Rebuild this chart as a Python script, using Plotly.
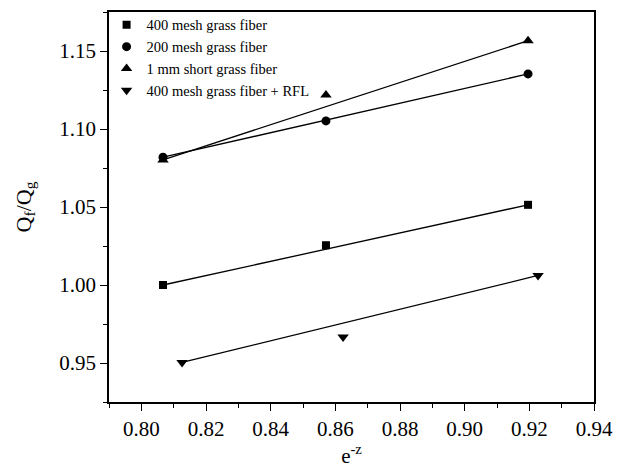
import plotly.graph_objects as go

# Data
names = ["400 mesh grass fiber", "200 mesh grass fiber",
         "1 mm short grass fiber", "400 mesh grass fiber + RFL"]
x_400 = [0.8067, 0.8571, 0.9196]
y_400 = [1.0000, 1.0255, 1.0514]
x_200 = [0.8067, 0.8571, 0.9196]
y_200 = [1.0819, 1.1052, 1.1353]
x_1mm = [0.8067, 0.8571, 0.9196]
y_1mm = [1.0802, 1.1218, 1.1566]
x_rfl = [0.8126, 0.8624, 0.9227]
y_rfl = [0.9504, 0.9666, 1.0061]

x_ticks = [0.80, 0.82, 0.84, 0.86, 0.88, 0.90, 0.92, 0.94]
y_ticks = [0.95, 1.00, 1.05, 1.10, 1.15]

series = [
    (names[0], x_400, y_400, "square", 8),
    (names[1], x_200, y_200, "circle", 9),
    (names[2], x_1mm, y_1mm, "triangle-up", 10),
    (names[3], x_rfl, y_rfl, "triangle-down", 10),
]

FONT = "Liberation Serif"

fig = go.Figure()
# fit lines (drawn first so markers sit on top)
for name, xs, ys, sym, sz in series:
    fig.add_trace(go.Scatter(
        x=[xs[0], xs[-1]], y=[ys[0], ys[-1]], mode="lines",
        line=dict(color="black", width=1.3), showlegend=False, hoverinfo="skip"))
for name, xs, ys, sym, sz in series:
    fig.add_trace(go.Scatter(
        x=xs, y=ys, mode="markers", name=name,
        marker=dict(symbol=sym, size=sz, color="black", line=dict(width=0))))

axis_common = dict(
    showgrid=False, zeroline=False, showline=True, linecolor="black", linewidth=1.5,
    mirror=True, ticks="outside", ticklen=7, tickwidth=1.2, tickcolor="black",
    tickfont=dict(family=FONT, size=21, color="black"),
)

fig.update_xaxes(
    range=[0.79, 0.94], tickvals=x_ticks, ticktext=[f"{v:.2f}" for v in x_ticks],
    minor=dict(dtick=0.01, tick0=0.79, ticks="outside", ticklen=4, tickcolor="black", tickwidth=1.2),
    title=dict(text="e<sup>-z</sup>", font=dict(family=FONT, size=21, color="black"), standoff=2),
    **axis_common)
fig.update_yaxes(
    range=[0.925, 1.175], tickvals=y_ticks, ticktext=[f"{v:.2f}" for v in y_ticks],
    minor=dict(dtick=0.025, tick0=0.925, ticks="outside", ticklen=4, tickcolor="black", tickwidth=1.2),
    title=dict(text="Q<sub>f</sub>/Q<sub>g</sub>", font=dict(family=FONT, size=22, color="black"), standoff=22),
    **axis_common)

fig.update_layout(
    width=618, height=473,
    margin=dict(l=109, r=24, t=12, b=71, autoexpand=False),
    paper_bgcolor="white", plot_bgcolor="white",
    font=dict(family=FONT, color="black"),
    legend=dict(x=-0.005, y=1.008, xanchor="left", yanchor="top",
                bgcolor="rgba(0,0,0,0)", font=dict(family=FONT, size=14.5, color="black"),
                tracegroupgap=0, itemwidth=30),
)

fig.write_html("out.html")
